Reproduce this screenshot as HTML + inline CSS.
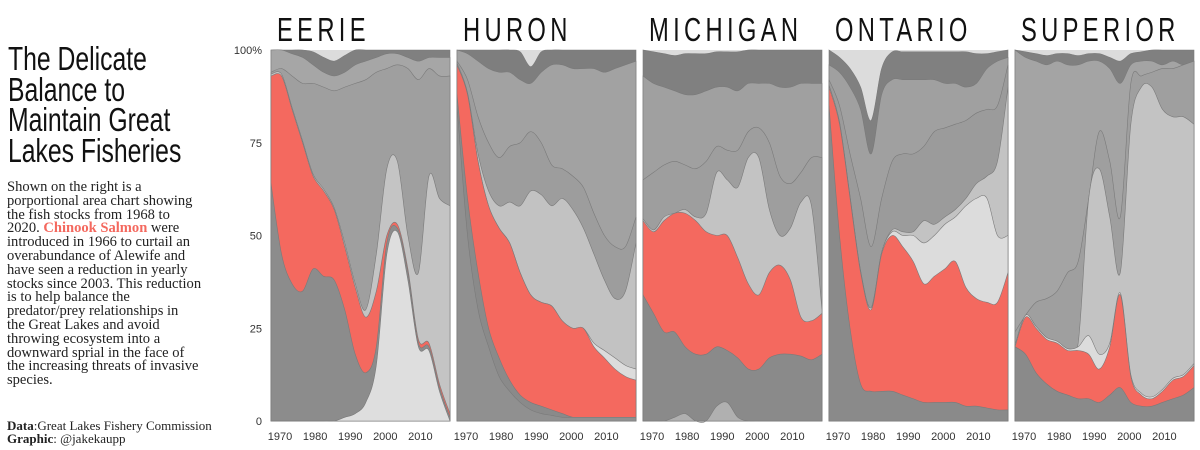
<!DOCTYPE html>
<html><head><meta charset="utf-8"><style>
body{margin:0;background:#fff;width:1200px;height:450px;overflow:hidden;position:relative;font-family:"Liberation Sans",sans-serif}
#title{position:absolute;left:8px;top:44px;font-size:33px;line-height:30.5px;color:#111;transform:scaleX(0.75);transform-origin:left top;white-space:nowrap}
#body{position:absolute;left:7px;top:181px;font-family:"Liberation Serif",serif;font-size:15px;line-height:13.8px;color:#222;white-space:nowrap;transform:scaleX(0.97);transform-origin:left top}
#body b{color:#f4695f}
#credit{position:absolute;left:7px;top:420px;font-family:"Liberation Serif",serif;font-size:13px;line-height:12.5px;color:#222}
svg{position:absolute;left:0;top:0}
</style></head><body>
<div id="title">The Delicate<br>Balance to<br>Maintain Great<br>Lakes Fisheries</div>
<div id="body">Shown on the right is a<br>porportional area chart showing<br>the fish stocks from 1968 to<br>2020. <b>Chinook Salmon</b> were<br>introduced in 1966 to curtail an<br>overabundance of Alewife and<br>have seen a reduction in yearly<br>stocks since 2003. This reduction<br>is to help balance the<br>predator/prey relationships in<br>the Great Lakes and avoid<br>throwing ecosystem into a<br>downward sprial in the face of<br>the increasing threats of invasive<br>species.</div>
<div id="credit"><b>Data</b>:Great Lakes Fishery Commission<br><b>Graphic</b>: @jakekaupp</div>
<svg id="chart" width="1200" height="450"></svg>
<script>
const years=[1968,1971,1974,1977,1980,1983,1986,1989,1992,1995,1998,2001,2004,2007,2010,2013,2016,2019];
const lakes=["EERIE","HURON","MICHIGAN","ONTARIO","SUPERIOR"];
const yTicks=[0,25,50,75,100];
const xTicks=[1970,1980,1990,2000,2010];
// cumulative layer tops (percent), bottom to top; last layer fills to 100
const eerieLayers=[
[0,0,0,0,0,0,0,1,2,5,15,45,51,38,20,19,8,0],
[64,45,37,35,41,39,38,30,18,13,20,48,52,40,21,20,9,1],
[93,93,84,75,66,62,57,47,36,28,35,50,53,41,22,21,10,2],
[93.5,93.5,84.5,75.5,66.5,62.5,57.5,48,37,30,45,68,70,50,40,66,60,58],
[94,95,93,91,91,90,89,90,91,92,94,95,96,95,92,95,93,93],
[100,100,99,98,96,94,93,94,96,97,98,99,99,98,97,98,98,98],
[100,100,100,100,99.5,98,97,98.5,100,100,100,100,100,100,100,100,100,100]];
const huronLayers=[
[85,50,30,20,12,8,5,3,2,1.5,1,1,1,1,1,1,1,1],
[88,60,40,25,17,11,7,5,4,3,2,1,1,1,1,1,1,1],
[96,88,70,58,52,48,40,34,32,31,27,25,25,20,17,14,12,11],
[96,88,70,58,52,48,40,34,32,31,27,25,25,21,19,17,15,14],
[96.5,88.5,72,62,58,59,58,62,61,58,60,57,52,45,38,33,35,48],
[97,92,82,75,71,74,75,78,75,69,68,66,63,56,50,47,47,55],
[100,99,97,95,94,94,92,91,94,96,96,95,95,95,94,95,96,97],
[100,100,100,100,100,100,99.5,95.5,99.5,100,100,100,100,100,100,100,100,100]];
const michiganLayers=[
[0,0,0,1,2,0,0,4,5,1,0,0,0,0,0,0,0,0],
[34,29,24,24,20,18,18,20,19,17,14,14,17,18,18,17.5,16.5,18],
[54,51,54,56,56,54,51,50,50,44,37,34,40,42,38,28,27,29],
[54.5,51.5,55,56,57,55,56,67,65,63,71,71,57,50,52,59,58,30],
[65,67,69,70,69,68,70,74,73,73,78,79,75,66,64,67,71,71],
[93,91,90,89,88,88,89,90,90,89,91,91,91,90,90,91,91,91],
[100,99.5,99,98.5,99,99,99,99.5,99.5,99.5,100,100,100,100,100,100,100,100]];
const ontarioLayers=[
[85,50,25,10,8,8,8,7,6,5,5,5,5,4,4,3.5,3,3],
[90,80,60,40,30,45,50,47,43,37,39,41,43,36,33,32,32,40],
[90.5,80.5,60.5,40.5,30.5,45.5,51,50,50,48,50,53,55,58,60,60,50,50],
[90.5,80.5,60.5,40.5,30.5,45.5,51.5,51,51,54,53,55,57,60,64,66,70,90],
[92,85,72,60,47,60,70,72,72,74,78,79,80,81,83,84,85,96],
[96,94,90,84,72,88,92,92,92,92,92,91,91,90,91,95,97,98],
[100,98,95,90,81,95,99.5,99.5,99.5,99.5,99.5,99.5,99.5,99.5,99,99,99.5,100]];
const superiorLayers=[
[20,18,13,10,8,7,6,6,5,7,9,5,4,4,5,6,7,9],
[20,28,25,22,21,19,19,18,14,20,34,12,7,6,8,11,12,15],
[20.5,28.5,25.5,22.5,21.5,19.5,20,23,18,21,34.5,12.5,7.5,6.5,8.5,11.5,12.5,15.5],
[20.5,28.5,25.5,22.5,21.5,19.5,21,60,68,55,40,80,90,90,84,82,82,80],
[24,28.5,32,33,35,40,43,60,78,70,55,91,93,94,95,95,96,97],
[100,98,97,96,97,96,96,97,97,95,91,96,97,97,96,97,96,95],
[100,99.5,99,98.5,99,99,98.5,99,99,98,97,99,99.5,100,100,100,100,100]];
const allLayers=[eerieLayers,huronLayers,michiganLayers,ontarioLayers,superiorLayers];
const palettes=[
["#dedede","#8c8c8c","#f4695f","#c4c4c4","#9f9f9f","#a6a6a6","#808080","#dcdcdc"],
["#909090","#8a8a8a","#f4695f","#dcdcdc","#c2c2c2","#9d9d9d","#a2a2a2","#7e7e7e","#dcdcdc"],
["#b0b0b0","#8a8a8a","#f4695f","#c3c3c3","#9e9e9e","#a0a0a0","#808080","#dcdcdc"],
["#8a8a8a","#f4695f","#dcdcdc","#c3c3c3","#9b9b9b","#a0a0a0","#808080","#dcdcdc"],
["#8a8a8a","#f4695f","#dcdcdc","#c3c3c3","#9f9f9f","#a4a4a4","#808080","#dcdcdc"]];

const NS="http://www.w3.org/2000/svg";
const svg=document.getElementById('chart');
const Y0=421,Y1=50,PW=179;
const yS=v=>Y0-(v/100)*(Y0-Y1);
const panelX=i=>271+i*186;
const xS=(i,yr)=>panelX(i)+(yr-1968)/(2019-1968)*PW;
function mk(t,a){const e=document.createElementNS(NS,t);for(const k in a)e.setAttribute(k,a[k]);return e;}
function smooth(pts){
  let d="";
  for(let i=0;i<pts.length-1;i++){
    const p0=pts[Math.max(0,i-1)],p1=pts[i],p2=pts[i+1],p3=pts[Math.min(pts.length-1,i+2)];
    const c1x=p1[0]+(p2[0]-p0[0])/6,c1y=p1[1]+(p2[1]-p0[1])/6;
    const c2x=p2[0]-(p3[0]-p1[0])/6,c2y=p2[1]-(p3[1]-p1[1])/6;
    d+=`C${c1x},${c1y} ${c2x},${c2y} ${p2[0]},${p2[1]}`;
  }
  return d;
}
yTicks.forEach(v=>{
  const t=mk('text',{x:262,y:yS(v)+4,'text-anchor':'end','font-size':11,fill:'#333','font-family':'Liberation Sans, sans-serif'});
  t.textContent=v===100?'100%':String(v);
  
  
  svg.appendChild(t);
});
lakes.forEach((name,i)=>{
  const g=mk('g',{});
  
  
  svg.appendChild(g);
  const x0=panelX(i)+6;
  const tt=mk('text',{x:x0,y:41,'font-size':33,fill:'#111','letter-spacing':'6','font-family':'Liberation Sans, sans-serif',transform:`translate(${x0},0) scale(0.72,1) translate(${-x0},0)`});
  tt.textContent=name;
  
  
  g.appendChild(tt);
  const bg=mk('rect',{x:panelX(i),y:Y1,width:PW,height:Y0-Y1,fill:palettes[i][palettes[i].length-1]});
  
  
  g.appendChild(bg);
  const layers=allLayers[i];
  for(let L=layers.length-1;L>=0;L--){
    const pts=years.map((yr,k)=>{
      let v=layers[L][k];
      for(let m=0;m<L;m++) v=Math.max(v,layers[m][k]);
      return [xS(i,yr),yS(Math.min(100,v))];
    });
    const d=`M${xS(i,1968)},${Y0}L${pts[0][0]},${pts[0][1]}`+smooth(pts)+`L${xS(i,2019)},${Y0}Z`;
    const p=mk('path',{d,fill:palettes[i][L],stroke:'#7a7a7a','stroke-width':0.6});
    
    
    g.appendChild(p);
  }
  xTicks.forEach(yr=>{
    const t=mk('text',{x:xS(i,yr)+2,y:440,'text-anchor':'middle','font-size':11,fill:'#333','font-family':'Liberation Sans, sans-serif'});
    t.textContent=yr;
    
    
    g.appendChild(t);
  });
});
</script>
</body></html>
